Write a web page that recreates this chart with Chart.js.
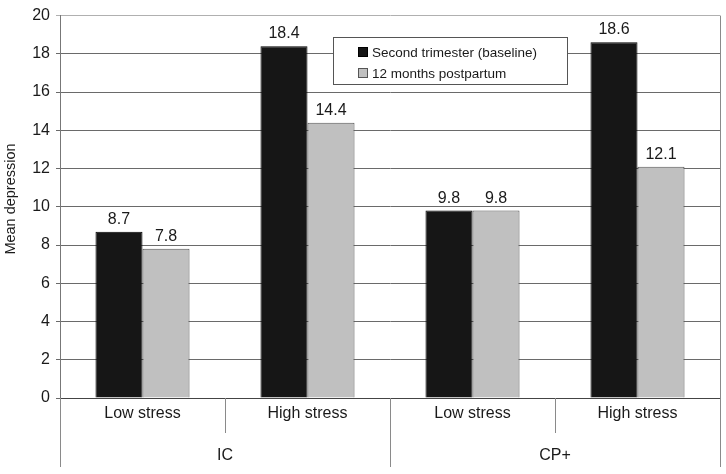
<!DOCTYPE html>
<html>
<head>
<meta charset="utf-8">
<script src="https://cdn.jsdelivr.net/npm/chart.js@4"></script>
<style>
  html, body { margin: 0; padding: 0; background: #fff; }
  #wrap { width: 726px; height: 474px; position: relative; }
</style>
</head>
<body>
<div id="wrap"><canvas id="bpChart"></canvas></div>
<script>
// data
const categories = ['Low stress', 'High stress', 'Low stress', 'High stress'];
const groups = ['IC', 'CP+'];
const baseline = [8.7, 18.4, 9.8, 18.6];
const postpartum = [7.8, 14.4, 9.8, 12.1];
const yTicks = [0, 2, 4, 6, 8, 10, 12, 14, 16, 18, 20];
const yTitle = 'Mean depression';

const FONT = '"Liberation Sans", Arial, Helvetica, sans-serif';

// value labels above each bar
const valueLabels = {
    id: 'valueLabels',
    afterDatasetsDraw(chart) {
        const ctx = chart.ctx;
        ctx.save();
        ctx.font = '16px ' + FONT;
        ctx.fillStyle = '#1a1a1a';
        ctx.textAlign = 'center';
        ctx.textBaseline = 'alphabetic';
        chart.data.datasets.forEach((ds, di) => {
            chart.getDatasetMeta(di).data.forEach((bar, i) => {
                ctx.fillText(ds.data[i].toFixed(1), bar.x, bar.y - 8);
            });
        });
        ctx.restore();
    }
};

// two-level category axis: separators, stress labels and group labels
const groupAxis = {
    id: 'groupAxis',
    afterDraw(chart) {
        const ctx = chart.ctx;
        const x = chart.scales.x;
        const area = chart.chartArea;
        const edge = i => x.getPixelForValue(i - 0.5);
        ctx.save();
        ctx.strokeStyle = '#8a8a8a';
        ctx.lineWidth = 1;
        // right frame line
        ctx.beginPath();
        ctx.moveTo(Math.round(area.right) + 0.5, area.top);
        ctx.lineTo(Math.round(area.right) + 0.5, area.bottom);
        ctx.stroke();
        for (let i = 0; i <= categories.length; i++) {
            const px = Math.round(edge(i)) + 0.5;
            const outer = i % 2 === 0;
            ctx.beginPath();
            ctx.moveTo(px, area.bottom);
            ctx.lineTo(px, area.bottom + (outer ? 69 : 35));
            ctx.stroke();
        }
        ctx.font = '16px ' + FONT;
        ctx.fillStyle = '#1a1a1a';
        ctx.textAlign = 'center';
        ctx.textBaseline = 'middle';
        categories.forEach((c, i) => {
            ctx.fillText(c, x.getPixelForValue(i), area.bottom + 16);
        });
        groups.forEach((g, gi) => {
            const mid = (edge(gi * 2) + edge(gi * 2 + 2)) / 2;
            ctx.fillText(g, mid, area.bottom + 58);
        });
        // y axis title, centred on the axis line length
        ctx.translate(11, area.bottom / 2);
        ctx.rotate(-Math.PI / 2);
        ctx.font = '14.5px ' + FONT;
        ctx.fillText(yTitle, 0, 0);
        ctx.restore();
    }
};

// boxed legend inside the plot area
const boxLegend = {
    id: 'boxLegend',
    afterDraw(chart) {
        const ctx = chart.ctx;
        const bx = 333.5, by = 37.5, bw = 234, bh = 47;
        ctx.save();
        ctx.fillStyle = '#fff';
        ctx.fillRect(bx, by, bw, bh);
        ctx.strokeStyle = '#555';
        ctx.lineWidth = 1;
        ctx.strokeRect(bx, by, bw, bh);
        ctx.font = '13.5px ' + FONT;
        ctx.textBaseline = 'middle';
        chart.data.datasets.forEach((ds, i) => {
            const cy = 52 + i * 21;
            ctx.fillStyle = ds.backgroundColor;
            ctx.fillRect(358, cy - 5, 10, 10);
            ctx.strokeStyle = ds.borderColor;
            ctx.strokeRect(358.5, cy - 4.5, 9, 9);
            ctx.fillStyle = '#1a1a1a';
            ctx.fillText(ds.label, 372, cy + 1);
        });
        ctx.restore();
    }
};

new Chart(document.getElementById('bpChart'), {
    type: 'bar',
    data: {
        labels: categories,
        datasets: [
            {
                label: 'Second trimester (baseline)',
                data: baseline,
                backgroundColor: '#161616',
                borderColor: '#000',
                borderWidth: 1
            },
            {
                label: '12 months postpartum',
                data: postpartum,
                backgroundColor: '#c0c0c0',
                borderColor: '#555',
                borderWidth: 1
            }
        ]
    },
    options: {
        responsive: true,
        maintainAspectRatio: false,
        animation: false,
        categoryPercentage: 0.57,
        barPercentage: 1,
        layout: { padding: { top: 13, right: 6, left: 0, bottom: 0 } },
        plugins: {
            legend: { display: false },
            tooltip: { enabled: false }
        },
        scales: {
            x: {
                ticks: { display: false },
                grid: { display: false, drawTicks: false },
                border: { display: true, color: '#444' },
                afterFit: s => { s.height = 76; }
            },
            y: {
                min: 0,
                max: 20,
                afterBuildTicks: s => { s.ticks = yTicks.map(v => ({ value: v })); },
                ticks: {
                    padding: 6,
                    color: '#1a1a1a',
                    font: { family: FONT, size: 16 }
                },
                grid: {
                    color: c => c.tick && c.tick.value === 20 ? '#b0b0b0' : '#6a6a6a',
                    tickLength: 4
                },
                border: { color: '#777' },
                afterFit: s => { s.width = 60; }
            }
        }
    },
    plugins: [valueLabels, groupAxis, boxLegend]
});
</script>
</body>
</html>
